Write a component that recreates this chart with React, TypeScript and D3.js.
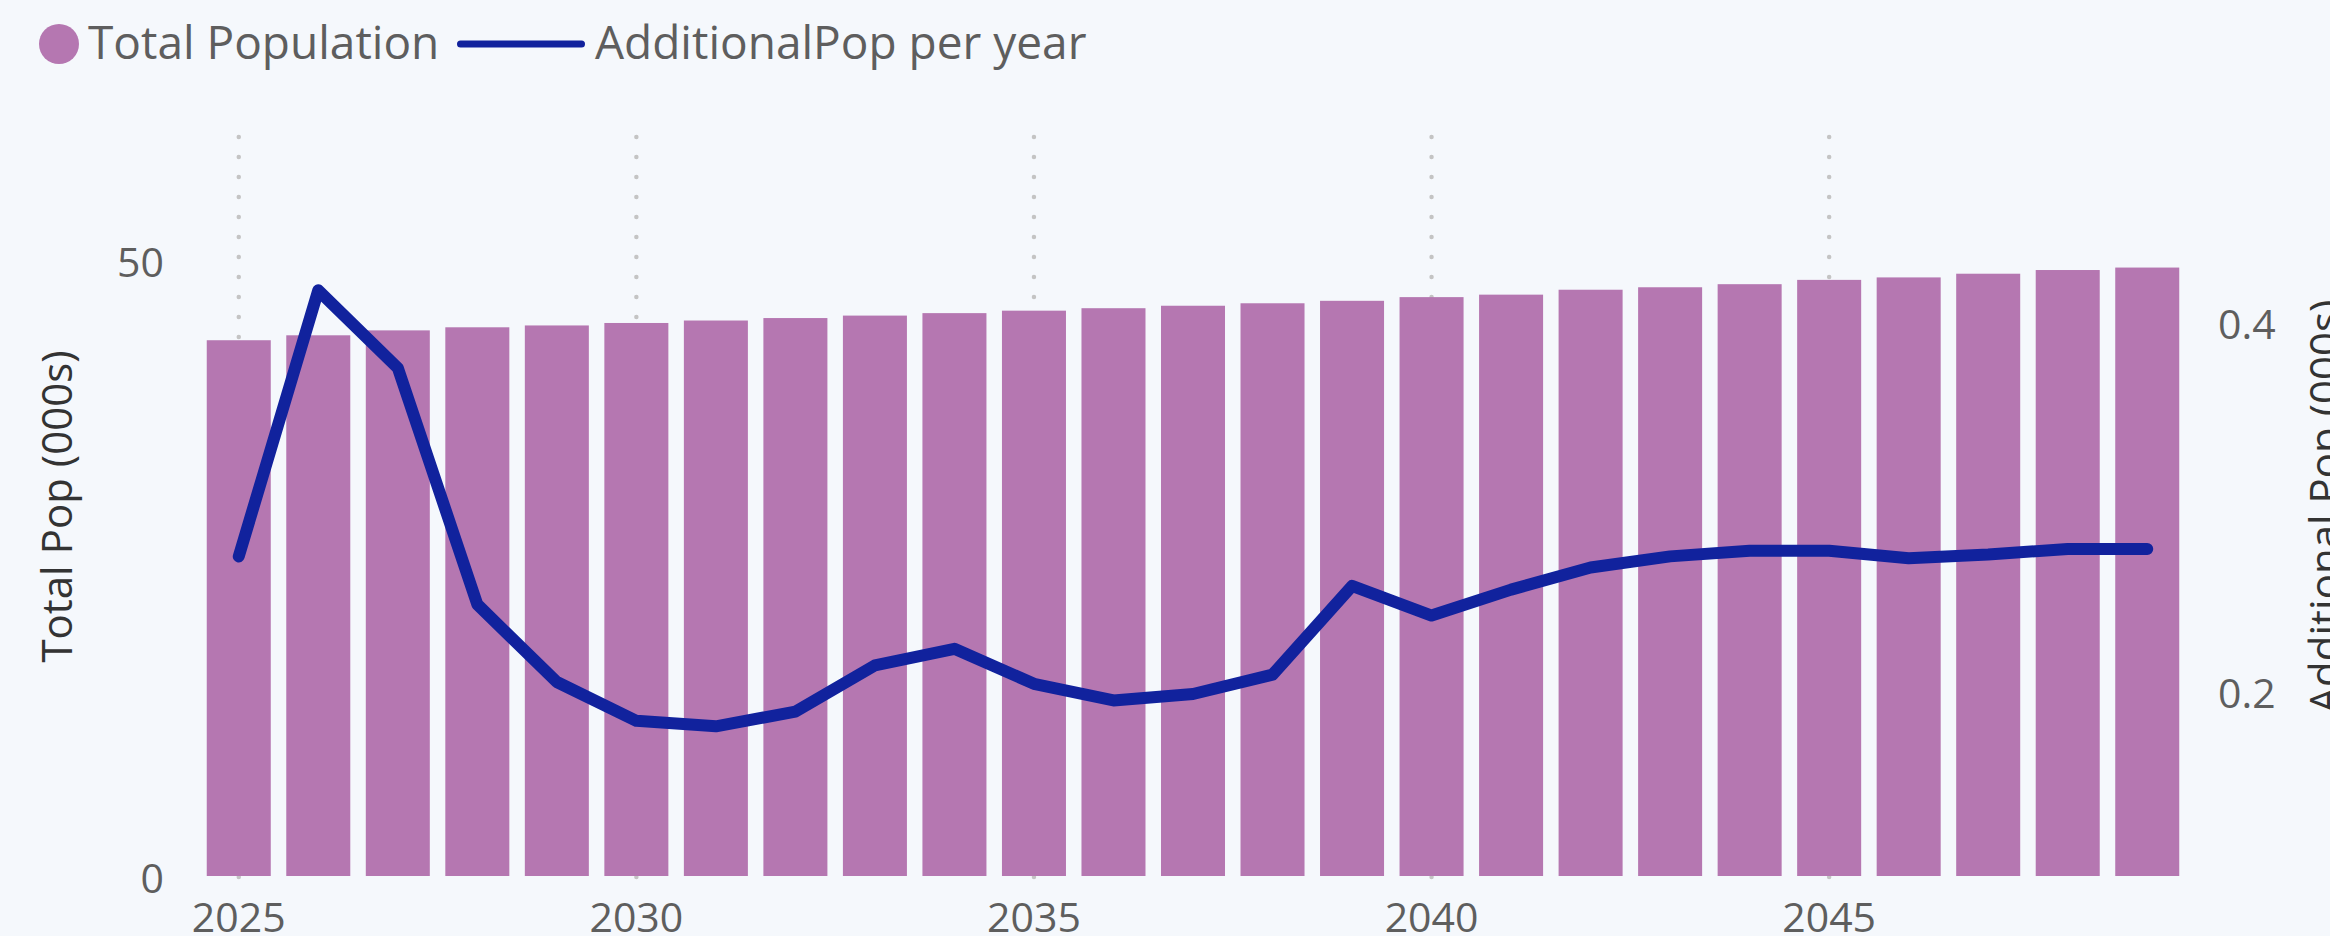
import React, { useEffect, useRef } from 'react';
import * as d3 from 'd3';

const years = [2025, 2026, 2027, 2028, 2029, 2030, 2031, 2032, 2033, 2034, 2035, 2036, 2037,
	2038, 2039, 2040, 2041, 2042, 2043, 2044, 2045, 2046, 2047, 2048, 2049];
// Total Pop (000s), left axis
const totalPop = [43.5, 43.9, 44.3, 44.55, 44.7, 44.9, 45.1, 45.3, 45.5, 45.7, 45.9, 46.1, 46.3,
	46.5, 46.7, 47.0, 47.2, 47.6, 47.8, 48.05, 48.4, 48.6, 48.9, 49.2, 49.4];
// Additional Pop (000s) per year, right axis
const additionalPop = [0.273, 0.417, 0.375, 0.247, 0.205, 0.184, 0.181, 0.189, 0.214, 0.223, 0.204, 0.195, 0.1985,
	0.209, 0.257, 0.241, 0.255, 0.267, 0.273, 0.276, 0.276, 0.272, 0.274, 0.277, 0.277];
const xTicks = [2025, 2030, 2035, 2040, 2045];
const leftTicks = [0, 50];
const rightTicks = [0.2, 0.4];

const barColor = "#b577b1";
const lineColor = "#11229d";
const font = "'Open Sans', 'Noto Sans', sans-serif";

const App = () => {
	const ref = useRef<SVGSVGElement>(null);
	useEffect(() => drawChart(), []);

	function drawChart() {
		const width = 2330;
		const height = 936;
		const left = 199, right = 2187, top = 137, bottom = 876;
		const svg = d3.select(ref.current);
		svg.selectAll("*").remove();

		svg.append("rect").attr("width", width).attr("height", height).attr("fill", "#f5f8fc");

		const x = d3.scaleBand<number>()
			.domain(years)
			.range([left, right])
			.paddingInner(0.195)
			.paddingOuter(0.0975);
		const yLeft = d3.scaleLinear().domain([0, 60]).range([bottom, top]);
		const yRight = d3.scaleLinear().domain([0.1, 0.5]).range([bottom, top]);
		const cx = (d: number) => (x(d) as number) + x.bandwidth() / 2;

		// dotted vertical grid
		svg.append("g").selectAll("line")
			.data(xTicks)
			.enter()
			.append("line")
			.attr("x1", (d) => cx(d))
			.attr("x2", (d) => cx(d))
			.attr("y1", top)
			.attr("y2", bottom + 3)
			.attr("stroke", "#c4c4c4")
			.attr("stroke-width", 4.5)
			.attr("stroke-linecap", "round")
			.attr("stroke-dasharray", "0 20");

		svg.append("g").selectAll("rect")
			.data(years)
			.enter()
			.append("rect")
			.attr("x", (d) => x(d) as number)
			.attr("y", (d, i) => yLeft(totalPop[i]))
			.attr("width", x.bandwidth())
			.attr("height", (d, i) => yLeft(0) - yLeft(totalPop[i]))
			.attr("fill", barColor);

		const line = d3.line<number>()
			.x((d, i) => cx(years[i]))
			.y((d) => yRight(d));
		svg.append("path")
			.datum(additionalPop)
			.attr("d", line)
			.attr("fill", "none")
			.attr("stroke", lineColor)
			.attr("stroke-width", 12)
			.attr("stroke-linejoin", "round")
			.attr("stroke-linecap", "round");

		// axes
		const styleAxis = (g: any) => {
			g.select(".domain").remove();
			g.selectAll("text")
				.attr("font-family", font)
				.attr("font-size", 41)
				.attr("fill", "#5e5e5e");
		};
		svg.append("g")
			.attr("transform", "translate(0," + bottom + ")")
			.call(d3.axisBottom(x).tickValues(xTicks).tickSize(0).tickPadding(27))
			.call(styleAxis);
		const gl = svg.append("g")
			.attr("transform", "translate(" + left + ",0)")
			.call(d3.axisLeft(yLeft).tickValues(leftTicks).tickSize(0).tickPadding(35))
			.call(styleAxis);
		gl.selectAll("text").attr("dy", "0.4em");
		const gr = svg.append("g")
			.attr("transform", "translate(" + right + ",0)")
			.call(d3.axisRight(yRight).tickValues(rightTicks).tickFormat(d3.format(".1f")).tickSize(0).tickPadding(31))
			.call(styleAxis);
		gr.selectAll("text").attr("dy", "0.4em");

		// axis titles
		const midY = (top + bottom) / 2;
		svg.append("text")
			.text("Total Pop (000s)")
			.attr("transform", "translate(72," + midY + ") rotate(-90)")
			.attr("text-anchor", "middle")
			.attr("font-family", font)
			.attr("font-size", 42)
			.attr("fill", "#333");
		svg.append("text")
			.text("Additional Pop (000s)")
			.attr("transform", "translate(2340," + midY + ") rotate(-90)")
			.attr("text-anchor", "middle")
			.attr("font-family", font)
			.attr("font-size", 42)
			.attr("fill", "#333");

		// legend
		const legend = svg.append("g");
		legend.append("circle").attr("cx", 59).attr("cy", 44).attr("r", 20).attr("fill", barColor);
		legend.append("text")
			.text("Total Population")
			.attr("x", 88).attr("y", 59)
			.attr("font-family", font).attr("font-size", 46).attr("fill", "#5e5e5e");
		legend.append("line")
			.attr("x1", 460.5).attr("x2", 581.5).attr("y1", 44).attr("y2", 44)
			.attr("stroke", lineColor).attr("stroke-width", 7).attr("stroke-linecap", "round");
		legend.append("text")
			.text("AdditionalPop per year")
			.attr("x", 595).attr("y", 59)
			.attr("font-family", font).attr("font-size", 46).attr("fill", "#5e5e5e");
	}

	return <svg ref={ref} width={2330} height={936} style={{ position: 'absolute', left: 0, top: 0, display: 'block' }} />;
};

export default App;
